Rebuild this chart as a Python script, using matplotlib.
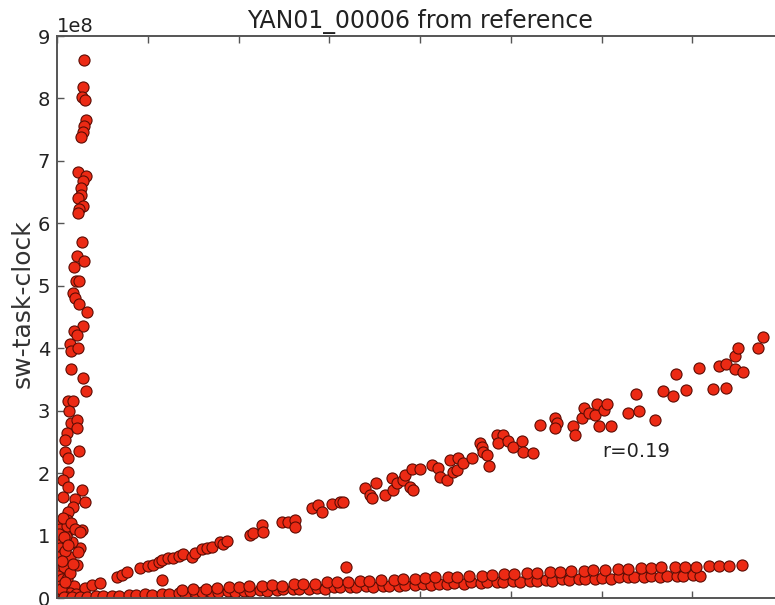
import matplotlib
matplotlib.use("Agg")
import matplotlib.pyplot as plt
import numpy as np

# per-run measurements; x is in tick units (no labels drawn), y in cycles
# vertical branch hugging the left spine
left_x = [0.301, 0.290, 0.279, 0.309, 0.316, 0.301, 0.290, 0.268, 0.235, 0.316,
          0.290, 0.268, 0.261, 0.235, 0.290, 0.246, 0.228, 0.272, 0.217, 0.301,
          0.191, 0.206, 0.242, 0.180, 0.195, 0.246, 0.327, 0.290, 0.191, 0.224,
          0.143, 0.151, 0.235, 0.154, 0.290, 0.320, 0.125, 0.173, 0.136, 0.151,
          0.217, 0.224, 0.107, 0.088, 0.088, 0.125, 0.246, 0.118, 0.069, 0.125,
          0.272, 0.063, 0.198, 0.309, 0.180, 0.125, 0.107, 0.132, 0.272, 0.253,
          0.224, 0.011, 0.033, 0.022, 0.055, 0.033, 0.066, 0.011, 0.044, 0.022,
          0.077, 0.011, 0.055, 0.033, 0.011, 0.066, 0.099, 0.110, 0.143, 0.165,
          0.099, 0.088, 0.143, 0.187, 0.143, 0.209, 0.110, 0.066, 0.154, 0.198,
          0.176, 0.231, 0.253, 0.110, 0.044, 0.022, 0.077, 0.055, 0.121, 0.088]
left_y = [8.61, 8.18, 8.03, 7.98, 7.66, 7.56, 7.46, 7.39, 6.83, 6.76,
          6.67, 6.57, 6.46, 6.41, 6.27, 6.23, 6.17, 5.70, 5.47, 5.39,
          5.30, 5.08, 5.07, 4.88, 4.80, 4.71, 4.58, 4.36, 4.27, 4.21,
          4.07, 3.95, 4.00, 3.67, 3.53, 3.32, 3.15, 3.16, 3.00, 2.81,
          2.85, 2.73, 2.64, 2.53, 2.34, 2.24, 2.36, 2.02, 1.89, 1.77,
          1.73, 1.62, 1.58, 1.54, 1.46, 1.38, 1.25, 1.09, 1.09, 0.80,
          0.53, 1.20, 1.10, 0.95, 0.90, 0.80, 0.70, 0.65, 0.55, 0.45,
          0.50, 0.35, 0.30, 0.20, 0.10, 0.05, 0.12, 0.30, 0.65, 0.90,
          1.00, 0.75, 0.40, 0.20, 0.08, 0.06, 1.15, 1.28, 1.20, 1.10,
          0.55, 0.74, 1.06, 0.02, 0.15, 1.02, 0.98, 0.60, 0.85, 0.25]

# steep diagonal branch
upper_x = [0.309, 0.382, 0.474, 0.658, 0.713, 0.768, 0.915, 1.000, 1.061, 1.120,
           1.154, 1.226, 1.282, 1.340, 1.392, 1.484, 1.520, 1.594, 1.650, 1.705,
           1.796, 1.830, 1.870, 2.127, 2.163, 2.256, 2.273, 2.476, 2.549, 2.623,
           2.623, 2.807, 2.879, 2.917, 3.027, 3.118, 3.148, 3.394, 3.449, 3.515,
           3.468, 3.614, 3.688, 3.706, 3.743, 3.816, 3.835, 3.890, 3.926, 3.909,
           4.000, 4.129, 4.202, 4.220, 4.294, 4.331, 4.367, 4.404, 4.422, 4.477,
           4.570, 4.661, 4.680, 4.698, 4.735, 4.764, 4.845, 4.918, 4.863, 4.973,
           5.028, 5.121, 5.138, 5.248, 5.322, 5.488, 5.506, 5.488, 5.683, 5.708,
           5.782, 5.810, 5.866, 5.928, 5.947, 5.972, 6.028, 6.057, 6.105, 6.295,
           6.380, 6.417, 6.590, 6.674, 6.785, 6.818, 6.928, 7.074, 7.225, 7.372,
           7.295, 7.372, 7.471, 7.507, 7.471, 7.562, 7.728, 7.776, 1.154, 3.180]
upper_y = [0.155, 0.21, 0.245, 0.34, 0.37, 0.42, 0.48, 0.52, 0.53, 0.57,
           0.61, 0.64, 0.64, 0.68, 0.70, 0.66, 0.72, 0.78, 0.80, 0.82,
           0.89, 0.86, 0.92, 1.01, 1.04, 1.17, 1.06, 1.21, 1.21, 1.25,
           1.14, 1.44, 1.49, 1.38, 1.51, 1.54, 1.53, 1.76, 1.65, 1.84,
           1.60, 1.65, 1.92, 1.73, 1.84, 1.89, 1.97, 1.78, 1.73, 2.06,
           2.06, 2.13, 2.08, 1.94, 1.89, 2.21, 2.02, 2.05, 2.24, 2.16,
           2.25, 2.49, 2.42, 2.34, 2.29, 2.12, 2.61, 2.61, 2.48, 2.51,
           2.42, 2.51, 2.34, 2.33, 2.77, 2.88, 2.80, 2.72, 2.76, 2.61,
           2.88, 3.04, 2.96, 2.93, 3.11, 2.76, 3.01, 3.11, 2.75, 2.97,
           3.27, 3.00, 2.85, 3.31, 3.24, 3.59, 3.33, 3.68, 3.34, 3.37,
           3.72, 3.75, 3.87, 4.00, 3.67, 3.62, 4.00, 4.18, 0.29, 0.50]

# shallow branch along the bottom
lower_x = [0.08, 0.16, 0.25, 0.33, 0.43, 0.51, 0.61, 0.68, 0.79, 0.87,
           0.97, 1.05, 1.16, 1.23, 1.34, 1.41, 1.52, 1.60, 1.70, 1.77,
           1.88, 1.96, 2.06, 2.13, 2.24, 2.31, 2.42, 2.49, 2.60, 2.67,
           2.78, 2.86, 2.95, 3.05, 3.12, 3.23, 3.30, 3.41, 3.48, 3.59,
           3.66, 3.77, 3.84, 3.95, 4.03, 4.12, 4.21, 4.30, 4.38, 4.49,
           4.56, 4.67, 4.74, 4.85, 4.92, 5.03, 5.10, 5.21, 5.29, 5.39,
           5.46, 5.57, 5.64, 5.75, 5.82, 5.93, 6.00, 6.11, 6.19, 6.29,
           6.36, 6.47, 6.54, 6.65, 6.72, 6.83, 6.90, 7.01, 7.08,
           1.38, 1.50, 1.64, 1.76, 1.89, 2.01, 2.12, 2.26, 2.37, 2.48,
           2.61, 2.71, 2.84, 2.98, 3.09, 3.21, 3.34, 3.44, 3.57, 3.71,
           3.81, 3.94, 4.06, 4.17, 4.31, 4.41, 4.54, 4.68, 4.79, 4.93,
           5.04, 5.18, 5.29, 5.43, 5.54, 5.66, 5.81, 5.91, 6.04, 6.18,
           6.29, 6.43, 6.55, 6.66, 6.81, 6.92, 7.04, 7.18, 7.29, 7.41, 7.55]
lower_y = [0.01, 0.02, 0.02, 0.01, 0.03, 0.03, 0.04, 0.03, 0.05, 0.05,
           0.06, 0.05, 0.07, 0.07, 0.08, 0.07, 0.09, 0.09, 0.10, 0.09,
           0.11, 0.10, 0.12, 0.11, 0.13, 0.12, 0.13, 0.14, 0.14, 0.15,
           0.15, 0.16, 0.15, 0.17, 0.17, 0.18, 0.17, 0.19, 0.18, 0.20,
           0.19, 0.20, 0.21, 0.21, 0.22, 0.21, 0.23, 0.22, 0.24, 0.23,
           0.25, 0.24, 0.25, 0.26, 0.25, 0.27, 0.26, 0.28, 0.27, 0.29,
           0.28, 0.30, 0.29, 0.30, 0.31, 0.31, 0.32, 0.31, 0.33, 0.33,
           0.34, 0.33, 0.35, 0.34, 0.35, 0.36, 0.35, 0.37, 0.36,
           0.13, 0.14, 0.15, 0.16, 0.17, 0.17, 0.19, 0.19, 0.21, 0.20,
           0.22, 0.23, 0.23, 0.25, 0.25, 0.26, 0.27, 0.28, 0.29, 0.29,
           0.30, 0.31, 0.32, 0.33, 0.34, 0.34, 0.35, 0.36, 0.37, 0.38,
           0.39, 0.40, 0.40, 0.42, 0.42, 0.43, 0.44, 0.45, 0.45, 0.46,
           0.47, 0.48, 0.48, 0.49, 0.50, 0.50, 0.50, 0.51, 0.52, 0.52, 0.53]

x_vals = np.array(left_x + upper_x + lower_x)
y_vals = np.array(left_y + upper_y + lower_y) * 1e8

fig = plt.figure(figsize=(7.75, 6.05), dpi=100)
ax = fig.add_axes([57 / 775, 7 / 605, 726 / 775, 562 / 605])

ax.plot(x_vals, y_vals, "o", color="#ec2a14", markeredgecolor="#5c0c04",
        markeredgewidth=0.8, markersize=8, linestyle="none")

ax.set_xlim(0, 8)
ax.set_ylim(0, 9e8)
ax.set_xticks(np.arange(0, 9, 1))
ax.set_yticks(np.arange(0, 10, 1) * 1e8)
ax.tick_params(axis="both", direction="in", length=5, width=1, color="#555555",
               top=True, right=True, labelbottom=False, labelsize=14,
               labelcolor="#222222", pad=5)
ax.yaxis.get_offset_text().set_fontsize(14)
for s in ax.spines.values():
    s.set_color("#555555")
    s.set_linewidth(1.4)

ax.set_title("YAN01_00006 from reference", fontsize=17, color="#222222", pad=6)
ax.set_ylabel("sw-task-clock", fontsize=18, color="#333333")
ax.yaxis.set_label_coords(-0.031, 0.523)
ax.text(6.01, 2.34e8, "r=0.19", fontsize=14, color="#222222", ha="left", va="center")

fig.savefig("out.png", dpi=100)
